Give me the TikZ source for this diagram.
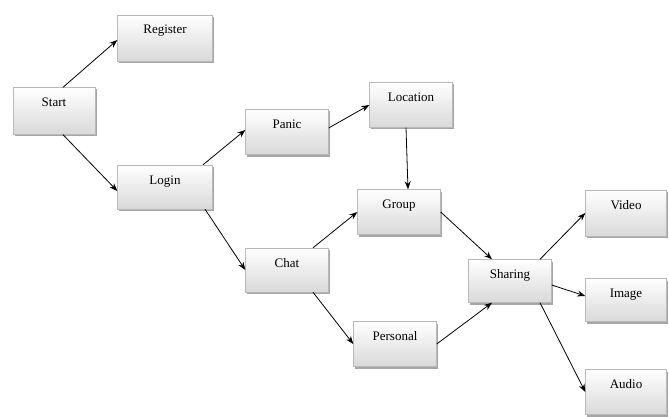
\documentclass[tikz,border=0pt]{standalone}
\usepackage{fontspec}
\setmainfont{Liberation Serif}
\usetikzlibrary{arrows.meta,shadows}
\begin{document}
\begin{tikzpicture}[x=1pt,y=-1pt,
  box/.style={draw=gray!55, line width=0.4pt, top color=white, bottom color=gray!30,
    drop shadow={shadow xshift=1.5pt, shadow yshift=-2pt, fill=black, opacity=0.35},
    inner xsep=2pt, inner ysep=5pt, text height=14pt,
    font=\fontsize{13}{15}\selectfont},
  conn/.style={draw=black, line width=0.8pt, -{Stealth[length=8pt,width=6pt]}}]
\useasboundingbox (0,0) rectangle (669,417);
\node[box, minimum width=95pt, text depth=22pt] (register) at (165,38) {Register};
\node[box, minimum width=82pt, text depth=23pt] (start) at (54,111) {Start};
\node[box, minimum width=95pt, text depth=20pt] (login) at (165,187) {Login};
\node[box, minimum width=83pt, text depth=21pt] (panic) at (287,132) {Panic};
\node[box, minimum width=83pt, text depth=21pt] (location) at (411,105) {Location};
\node[box, minimum width=83pt, text depth=21pt] (group) at (399,212) {Group};
\node[box, minimum width=83pt, text depth=20pt] (chat) at (287,270) {Chat};
\node[box, minimum width=83pt, text depth=21pt] (personal) at (395,344) {Personal};
\node[box, minimum width=83pt, text depth=19pt] (sharing) at (510,281) {Sharing};
\node[box, minimum width=81pt, text depth=22pt] (video) at (626,213) {Video};
\node[box, minimum width=81pt, text depth=19pt] (image) at (626,300) {Image};
\node[box, minimum width=81pt, text depth=21pt] (audio) at (626,392) {Audio};
\draw[conn] ([xshift=9pt]start.north) -- ([yshift=-2pt]register.west);
\draw[conn] ([xshift=9pt]start.south) -- ([yshift=-4pt]login.west);
\draw[conn] ([xshift=38pt]login.north) -- ([yshift=2pt]panic.west);
\draw[conn] ([yshift=4pt]panic.east) -- (location.west);
\draw[conn] ([xshift=-5pt]location.south) -- ([xshift=9pt]group.north);
\draw[conn] ([xshift=40pt]login.south) -- (chat.west);
\draw[conn] ([xshift=26pt]chat.north) -- (group.west);
\draw[conn] ([xshift=26pt]chat.south) -- (personal.west);
\draw[conn] (group.east) -- ([xshift=-18pt]sharing.north);
\draw[conn] (personal.east) -- ([xshift=-18pt]sharing.south);
\draw[conn] ([xshift=30pt]sharing.north) -- (video.west);
\draw[conn] ([yshift=-4pt]sharing.east) -- ([yshift=4pt]image.west);
\draw[conn] ([xshift=30pt]sharing.south) -- (audio.west);
\end{tikzpicture}
\end{document}
